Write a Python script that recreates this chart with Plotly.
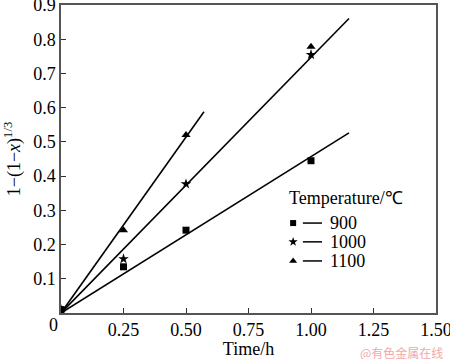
import plotly.graph_objects as go

# ---- data ----
temps = ["900", "1000", "1100"]
times = {
    "900": [0.0, 0.25, 0.5, 1.0],
    "1000": [0.0, 0.25, 0.5, 1.0],
    "1100": [0.0, 0.25, 0.5, 1.0],
}
values = {
    "900": [0.01, 0.135, 0.242, 0.445],
    "1000": [0.01, 0.158, 0.377, 0.755],
    "1100": [0.01, 0.242, 0.52, 0.778],
}
slopes = {"900": 0.457, "1000": 0.747, "1100": 1.028}
fit_end = {"900": 1.152, "1000": 1.152, "1100": 0.572}
symbols = {"900": "square", "1000": "star", "1100": "triangle-up"}
msize = {"900": 7, "1000": 8, "1100": 8}

x_ticks = [0, 0.25, 0.5, 0.75, 1.0, 1.25, 1.5]
x_ticklabels = ["", "0.25", "0.50", "0.75", "1.00", "1.25", "1.50"]
y_ticks = [0, 0.1, 0.2, 0.3, 0.4, 0.5, 0.6, 0.7, 0.8, 0.9]
y_ticklabels = [""] + ["%.1f" % v for v in y_ticks[1:]]

FONT = "Liberation Serif"
fig = go.Figure()

for t in temps:
    fig.add_trace(go.Scatter(x=[0, fit_end[t]], y=[0, slopes[t] * fit_end[t]],
                             mode="lines", line=dict(color="black", width=1.6),
                             showlegend=False, hoverinfo="skip"))
    fig.add_trace(go.Scatter(x=times[t], y=values[t], mode="markers",
                             marker=dict(symbol=symbols[t], size=msize[t], color="black"),
                             showlegend=False))

# ---- custom legend (overlay axes spanning the plot area 0..1) ----
leg_rows = [0.292, 0.231, 0.169]
for t, yy in zip(temps, leg_rows):
    fig.add_trace(go.Scatter(x=[0.619], y=[yy], xaxis="x2", yaxis="y2", mode="markers",
                             marker=dict(symbol=symbols[t], size=msize[t] - 1, color="black"),
                             showlegend=False, hoverinfo="skip"))
    fig.add_shape(type="line", xref="paper", yref="paper", x0=0.645, x1=0.696, y0=yy, y1=yy,
                  line=dict(color="black", width=1.5))
    fig.add_annotation(x=0.712, y=yy, xref="paper", yref="paper", text=t, showarrow=False,
                       xanchor="left", yanchor="middle", font=dict(family=FONT, size=18, color="black"))
fig.add_annotation(x=0.603, y=0.372, xref="paper", yref="paper", text="Temperature/℃", showarrow=False,
                   xanchor="left", yanchor="middle", font=dict(family=FONT, size=18, color="black"))

# origin label
fig.add_annotation(x=0, y=0, xref="paper", yref="paper", text="0", showarrow=False,
                   xanchor="right", yanchor="top", xshift=-1, yshift=0,
                   font=dict(family=FONT, size=18, color="black"))
# watermark
fig.add_annotation(x=1.0, y=0, xref="paper", yref="paper", text="@有色金属在线", showarrow=False,
                   xanchor="right", yanchor="top", xshift=9, yshift=-29,
                   font=dict(family="Noto Sans CJK SC", size=12, color="#f2a8a8"))

axis_common = dict(showgrid=False, zeroline=False, showline=True, linecolor="#555555", linewidth=1.5,
                   mirror=True, ticks="inside", ticklen=5, tickcolor="#333333", tickwidth=1,
                   automargin=False, ticklabeloverflow="allow",
                   tickfont=dict(family=FONT, size=18, color="black"))

fig.update_layout(
    width=450, height=359,
    margin=dict(l=61, r=14, t=5, b=46),
    paper_bgcolor="white", plot_bgcolor="white",
    font=dict(family=FONT, color="black"),
    xaxis=dict(range=[0, 1.5], tickvals=x_ticks, ticktext=x_ticklabels,
               title=dict(text="Time/h", font=dict(family=FONT, size=18, color="black"), standoff=2),
               **axis_common),
    yaxis=dict(range=[0, 0.9], tickvals=y_ticks, ticktext=y_ticklabels,
               title=dict(text="1−(1−<i>x</i>)<sup>1/3</sup>", font=dict(family=FONT, size=18, color="black"),
                          standoff=8),
               **axis_common),
    xaxis2=dict(range=[0, 1], overlaying="x", visible=False, anchor="y2"),
    yaxis2=dict(range=[0, 1], overlaying="y", visible=False, anchor="x2"),
    showlegend=False,
)

fig.write_html("out.html", config={"displayModeBar": False},
               post_script="document.body.style.margin='0';document.body.style.padding='0';")
